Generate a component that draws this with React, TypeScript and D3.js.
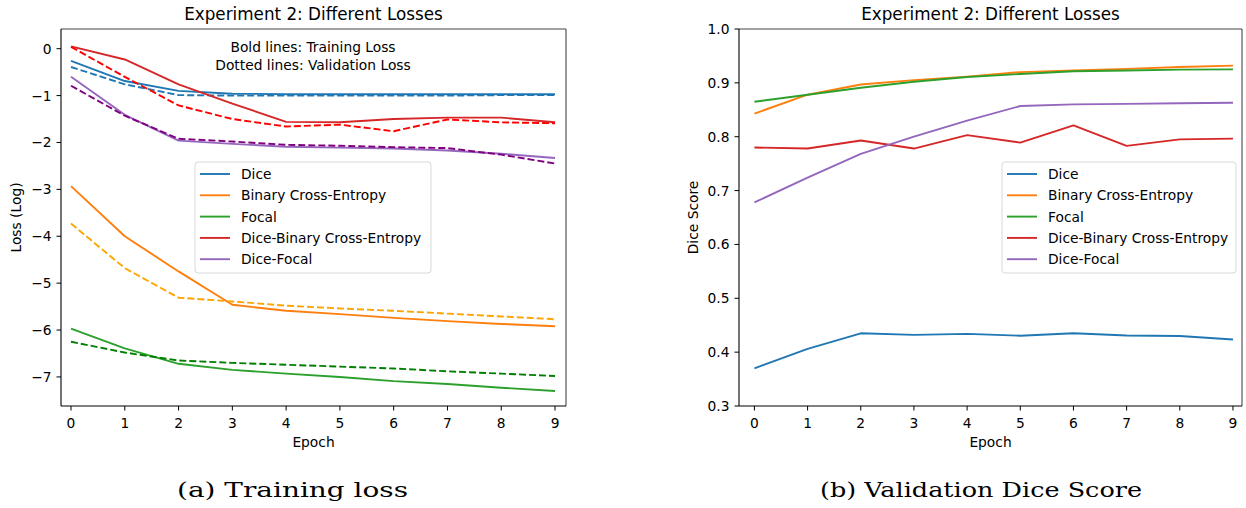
import React from "react";
import * as d3 from "d3";

const epochs = [0, 1, 2, 3, 4, 5, 6, 7, 8, 9];
const seriesNames = ["Dice", "Binary Cross-Entropy", "Focal", "Dice-Binary Cross-Entropy", "Dice-Focal"];
const trainColors = ["#1f77b4", "#ff7f0e", "#2ca02c", "#d62728", "#9467bd"];
const valColors = ["#1f77b4", "#ffa500", "#008000", "#ff0000", "#800080"];

// Training loss (log)
const trainDice = [-0.26, -0.69, -0.9, -0.96, -0.97, -0.97, -0.97, -0.97, -0.97, -0.97];
const trainBCE = [-2.93, -4.0, -4.75, -5.46, -5.59, -5.66, -5.74, -5.81, -5.87, -5.92];
const trainFocal = [-5.97, -6.39, -6.72, -6.85, -6.93, -7.0, -7.09, -7.15, -7.23, -7.3];
const trainDBCE = [0.05, -0.23, -0.76, -1.17, -1.56, -1.57, -1.5, -1.47, -1.47, -1.57];
const trainDF = [-0.6, -1.41, -1.96, -2.03, -2.09, -2.11, -2.13, -2.17, -2.24, -2.33];

// Validation loss (log)
const valDice = [-0.39, -0.76, -0.99, -1.0, -1.0, -1.0, -1.0, -1.0, -0.99, -0.99];
const valBCE = [-3.73, -4.68, -5.31, -5.39, -5.48, -5.54, -5.59, -5.65, -5.71, -5.77];
const valFocal = [-6.25, -6.48, -6.65, -6.7, -6.74, -6.78, -6.82, -6.88, -6.93, -6.98];
const valDBCE = [0.04, -0.6, -1.21, -1.5, -1.66, -1.62, -1.76, -1.51, -1.57, -1.59];
const valDF = [-0.79, -1.43, -1.92, -1.98, -2.05, -2.07, -2.1, -2.12, -2.26, -2.45];

// Validation dice score
const scoreDice = [0.37, 0.406, 0.435, 0.432, 0.434, 0.4305, 0.435, 0.431, 0.43, 0.4235];
const scoreBCE = [0.843, 0.878, 0.897, 0.905, 0.9115, 0.92, 0.923, 0.926, 0.9295, 0.932];
const scoreFocal = [0.865, 0.878, 0.891, 0.902, 0.911, 0.9165, 0.9215, 0.923, 0.9245, 0.925];
const scoreDBCE = [0.78, 0.778, 0.793, 0.778, 0.803, 0.789, 0.821, 0.783, 0.795, 0.7965];
const scoreDF = [0.678, 0.724, 0.768, 0.8, 0.83, 0.857, 0.86, 0.861, 0.862, 0.863];

const lossTicks = [0, -1, -2, -3, -4, -5, -6, -7];
const scoreTicks = [0.3, 0.4, 0.5, 0.6, 0.7, 0.8, 0.9, 1.0];

const trainSeries = [trainDice, trainBCE, trainFocal, trainDBCE, trainDF];
const valSeries = [valDice, valBCE, valFocal, valDBCE, valDF];
const scoreSeries = [scoreDice, scoreBCE, scoreFocal, scoreDBCE, scoreDF];

const FONT = "DejaVu Sans, sans-serif";
const FS = 13.8;
const fmtMinus = (v: number, digits: number) => {
  const s = v.toFixed(digits);
  return s.replace("-", "\u2212");
};

type PanelProps = {
  left: number;
  top: number;
  right: number;
  bottom: number;
  xDomain: [number, number];
  yDomain: [number, number];
  yTicks: number[];
  yDigits: number;
  yLabel: string;
  yLabelX: number;
  lines: { data: number[]; color: string; dashed: boolean }[];
  legendBox: { x: number; y: number; w: number; h: number };
  children?: React.ReactNode;
};

function Panel(p: PanelProps) {
  const x = d3.scaleLinear().domain(p.xDomain).range([p.left, p.right]);
  const y = d3.scaleLinear().domain(p.yDomain).range([p.bottom, p.top]);
  const line = d3
    .line<number>()
    .x((_, i) => x(epochs[i]))
    .y((d) => y(d));
  const cx = (p.left + p.right) / 2;
  const cy = (p.top + p.bottom) / 2;
  const lb = p.legendBox;
  return (
    <g>
      {p.lines.map((l, i) => (
        <path
          key={i}
          d={line(l.data) || ""}
          fill="none"
          stroke={l.color}
          strokeWidth={1.9}
          strokeDasharray={l.dashed ? "7,3" : undefined}
          strokeLinejoin="round"
        />
      ))}
      {/* spines */}
      <line x1={p.left} x2={p.right} y1={p.top} y2={p.top} stroke="#444" strokeWidth={1.1} />
      <line x1={p.right} x2={p.right} y1={p.top} y2={p.bottom} stroke="#444" strokeWidth={1.1} />
      <line x1={p.left} x2={p.left} y1={p.top} y2={p.bottom} stroke="#000" strokeWidth={1.1} />
      <line x1={p.left} x2={p.right} y1={p.bottom} y2={p.bottom} stroke="#000" strokeWidth={1.1} />
      {/* x ticks */}
      {epochs.map((e) => (
        <g key={"x" + e}>
          <line x1={x(e)} x2={x(e)} y1={p.bottom} y2={p.bottom + 4.5} stroke="#000" strokeWidth={1} />
          <text x={x(e)} y={p.bottom + 22} textAnchor="middle" fontFamily={FONT} fontSize={FS} fill="#000">
            {String(e)}
          </text>
        </g>
      ))}
      {/* y ticks */}
      {p.yTicks.map((t) => (
        <g key={"y" + t}>
          <line x1={p.left - 4.5} x2={p.left} y1={y(t)} y2={y(t)} stroke="#000" strokeWidth={1} />
          <text
            x={p.left - 9.5}
            y={y(t)}
            dy="0.36em"
            textAnchor="end"
            fontFamily={FONT}
            fontSize={FS}
            fill="#000"
          >
            {fmtMinus(t, p.yDigits)}
          </text>
        </g>
      ))}
      <text x={cx} y={p.bottom + 41} textAnchor="middle" fontFamily={FONT} fontSize={FS} fill="#000">
        Epoch
      </text>
      <text
        transform={`translate(${p.yLabelX},${cy}) rotate(-90)`}
        textAnchor="middle"
        dy="0.36em"
        fontFamily={FONT}
        fontSize={FS}
        fill="#000"
      >
        {p.yLabel}
      </text>
      <text x={cx} y={20} textAnchor="middle" fontFamily={FONT} fontSize={16.8} fill="#000">
        Experiment 2: Different Losses
      </text>
      {/* legend */}
      <rect
        x={lb.x}
        y={lb.y}
        width={lb.w}
        height={lb.h}
        rx={3}
        fill="#fff"
        fillOpacity={0.8}
        stroke="#d9d9d9"
        strokeWidth={1}
      />
      {seriesNames.map((n, i) => {
        const yy = lb.y + 12 + i * 21.3;
        return (
          <g key={n}>
            <line x1={lb.x + 5} x2={lb.x + 35} y1={yy} y2={yy} stroke={trainColors[i]} strokeWidth={1.9} />
            <text x={lb.x + 46} y={yy} dy="0.36em" fontFamily={FONT} fontSize={FS} fill="#000">
              {n}
            </text>
          </g>
        );
      })}
      {p.children}
    </g>
  );
}

export default function App() {
  const leftLines = [] as { data: number[]; color: string; dashed: boolean }[];
  for (let i = 0; i < 5; i++) {
    leftLines.push({ data: trainSeries[i], color: trainColors[i], dashed: false });
    leftLines.push({ data: valSeries[i], color: valColors[i], dashed: true });
  }
  const rightLines = scoreSeries.map((d, i) => ({ data: d, color: trainColors[i], dashed: false }));
  return (
    <svg
      width={1246}
      height={508}
      style={{ position: "absolute", left: 0, top: 0, background: "#fff" }}
    >
      <rect x={0} y={0} width={1246} height={508} fill="#fff" />
      <Panel
        left={61}
        top={29}
        right={566}
        bottom={406}
        xDomain={[-0.186, 9.204]}
        yDomain={[-7.62, 0.42]}
        yTicks={lossTicks}
        yDigits={0}
        yLabel="Loss (Log)"
        yLabelX={16}
        lines={leftLines}
        legendBox={{ x: 195, y: 162, w: 236, h: 111 }}
      >
        <text x={313} y={47} dy="0.36em" textAnchor="middle" fontFamily={FONT} fontSize={FS} fill="#000">
          Bold lines: Training Loss
        </text>
        <text x={313} y={65} dy="0.36em" textAnchor="middle" fontFamily={FONT} fontSize={FS} fill="#000">
          Dotted lines: Validation Loss
        </text>
      </Panel>
      <Panel
        left={739}
        top={29}
        right={1242}
        bottom={406}
        xDomain={[-0.29, 9.17]}
        yDomain={[0.3, 1.0]}
        yTicks={scoreTicks}
        yDigits={1}
        yLabel="Dice Score"
        yLabelX={693}
        lines={rightLines}
        legendBox={{ x: 1002, y: 162, w: 234, h: 111 }}
      />
      <text
        x={177}
        y={497}
        textLength={231}
        lengthAdjust="spacingAndGlyphs"
        fontFamily="DejaVu Serif, serif"
        fontSize={19.5}
        fill="#000"
      >
        (a) Training loss
      </text>
      <text
        x={820}
        y={497}
        textLength={322}
        lengthAdjust="spacingAndGlyphs"
        fontFamily="DejaVu Serif, serif"
        fontSize={19.5}
        fill="#000"
      >
        (b) Validation Dice Score
      </text>
    </svg>
  );
}
